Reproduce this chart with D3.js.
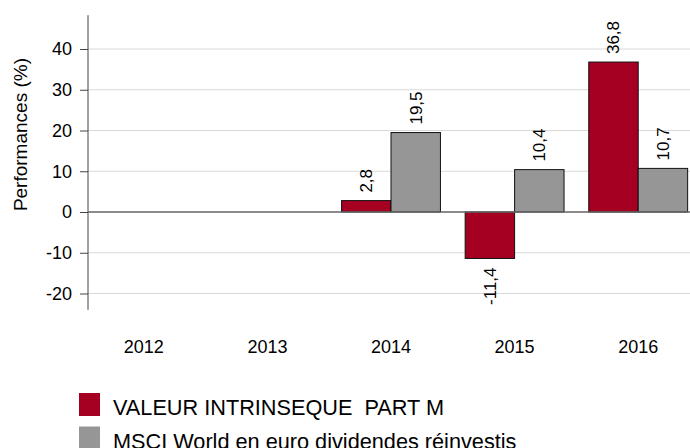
<!DOCTYPE html>
<html>
<head>
<meta charset="utf-8">
<script src="https://cdn.jsdelivr.net/npm/d3@7"></script>
<style>
    body { margin: 0; background: #fff; }
    text { font-family: "Liberation Sans", Arial, sans-serif; fill: #000; }
</style>
</head>
<body>
<div id="chart"></div>
<script>
// chart data
years = ["2012", "2013", "2014", "2015", "2016"];
fund = [null, null, 2.8, -11.4, 36.8];
index = [null, null, 19.5, 10.4, 10.7];
yTicks = [-20, -10, 0, 10, 20, 30, 40];
seriesNames = ["VALEUR INTRINSEQUE\u00a0 PART M", "MSCI World en euro dividendes réinvestis"];
seriesColors = ["#a50021", "#969696"];

let svg = d3.select('#chart')
    .append('svg')
    .attr('width', 690)
    .attr('height', 448);

let axisX = 88;

let x = d3.scaleBand()
    .domain(years)
    .range([82, 700]);

// two bars per year, side by side
let sub = d3.scaleBand()
    .domain([0, 1])
    .range([0, x.bandwidth()])
    .paddingOuter(0.25)
    .paddingInner(0);

let y = d3.scaleLinear()
    .domain([-20, 40])
    .range([293.5, 49]);

// gridlines
svg.append('g')
    .selectAll('line')
    .data(yTicks.filter(d => d !== 0))
    .enter().append('line')
    .attr('x1', axisX)
    .attr('x2', 690)
    .attr('y1', d => y(d))
    .attr('y2', d => y(d))
    .attr('stroke', '#d9d9d9')
    .attr('stroke-width', 1);

// y axis (plain hyphen for negatives, like the source)
let yAxis = d3.axisLeft(y).tickValues(yTicks).tickSize(8).tickPadding(8).tickFormat(d => String(d));
let ya = svg.append('g')
    .attr('transform', `translate(${axisX},0)`)
    .call(yAxis);
ya.select('.domain').remove();
ya.selectAll('.tick line').attr('stroke', '#444');
ya.selectAll('.tick text')
    .style('font-size', '18px')
    .style('font-family', '"Liberation Sans", Arial, sans-serif')
    .attr('fill', '#000');
svg.append('line')
    .attr('x1', axisX).attr('x2', axisX)
    .attr('y1', y(48.3)).attr('y2', y(-24))
    .attr('stroke', '#444').attr('stroke-width', 1);

svg.append('text')
    .attr('transform', `translate(27,${y(19)}) rotate(-90)`)
    .attr('text-anchor', 'middle')
    .style('font-size', '19px')
    .text('Performances (%)');

// bars
let rows = [];
years.forEach((yr, i) => {
    [fund[i], index[i]].forEach((v, s) => {
        if (v !== null) rows.push({ year: yr, s: s, v: v });
    });
});

svg.selectAll('.bar')
    .data(rows)
    .enter().append('rect')
    .attr('class', 'bar')
    .attr('x', d => x(d.year) + sub(d.s))
    .attr('width', sub.bandwidth())
    .attr('y', d => y(Math.max(0, d.v)))
    .attr('height', d => Math.abs(y(d.v) - y(0)))
    .attr('fill', d => seriesColors[d.s])
    .attr('stroke', '#111')
    .attr('stroke-width', 1);

// zero line
svg.append('line')
    .attr('x1', axisX).attr('x2', 690)
    .attr('y1', y(0)).attr('y2', y(0))
    .attr('stroke', '#666').attr('stroke-width', 1.5);

// value labels
svg.selectAll('.val')
    .data(rows)
    .enter().append('text')
    .attr('class', 'val')
    .attr('transform', d => {
        let cx = x(d.year) + sub(d.s) + sub.bandwidth() / 2 + 6;
        let cy = d.v >= 0 ? y(d.v) - 8 : y(d.v) + 9;
        return `translate(${cx},${cy}) rotate(-90)`;
    })
    .attr('text-anchor', d => d.v >= 0 ? 'start' : 'end')
    .style('font-size', '17px')
    .text(d => String(d.v).replace('.', ','));

// x labels
svg.selectAll('.xl')
    .data(years)
    .enter().append('text')
    .attr('class', 'xl')
    .attr('x', d => x(d) + x.bandwidth() / 2)
    .attr('y', 353)
    .attr('text-anchor', 'middle')
    .style('font-size', '18px')
    .text(d => d);

// legend
let leg = svg.selectAll('.leg')
    .data(seriesNames)
    .enter().append('g')
    .attr('class', 'leg')
    .attr('transform', (d, i) => `translate(79,${393 + i * 33.5})`);
leg.append('rect')
    .attr('width', 21).attr('height', 23)
    .attr('fill', (d, i) => seriesColors[i]);
leg.append('text')
    .attr('x', 34).attr('y', 22)
    .style('font-size', '21.7px')
    .text(d => d);
</script>
</body>
</html>
